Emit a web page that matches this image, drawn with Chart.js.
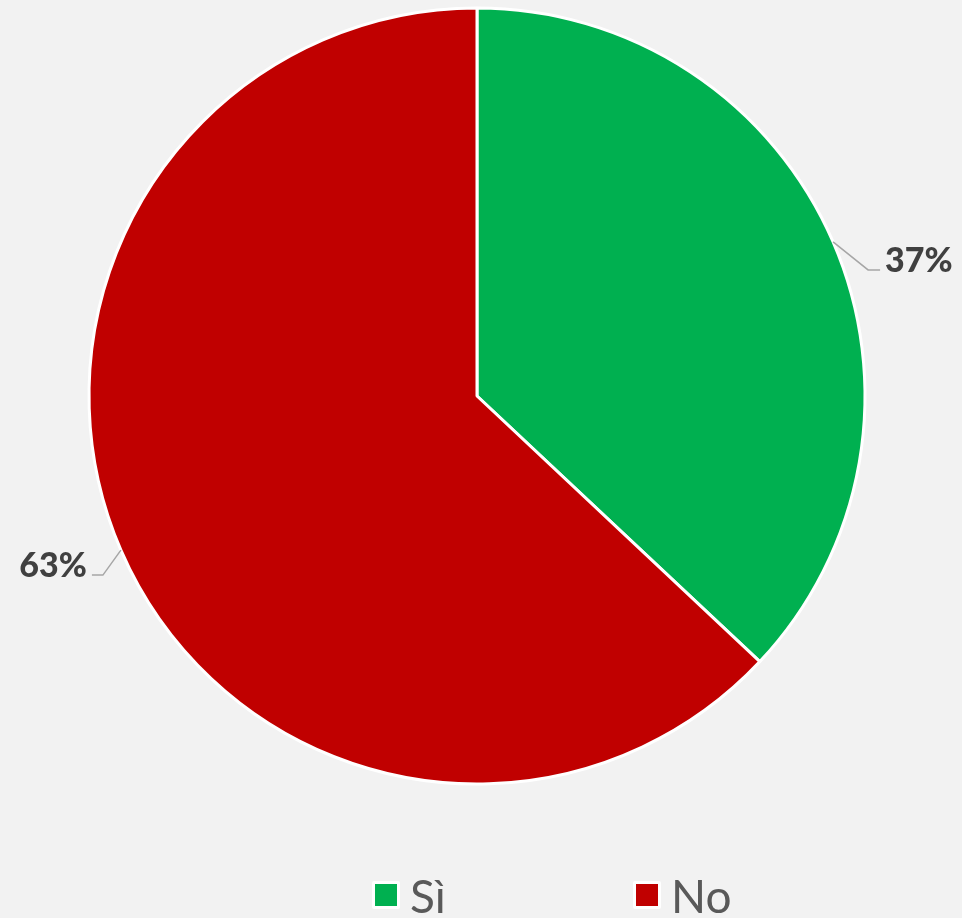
<!DOCTYPE html>
<html>
<head>
<meta charset="utf-8">
<script src="https://cdn.jsdelivr.net/npm/chart.js@4.4.1/dist/chart.umd.min.js"></script>
<style>
  html, body { margin: 0; padding: 0; background: #f2f2f2; }
  #wrap { width: 962px; height: 918px; position: relative; }
  .legend-item {
    position: absolute; top: 868px; height: 54px;
    display: flex; align-items: center;
    font: 46px Lato, sans-serif; color: #595959;
  }
  .legend-item i {
    display: inline-block; width: 22px; height: 22px;
    border: 3px solid #fff; border-radius: 2px; margin-right: 10px;
  }
</style>
</head>
<body>
<div id="wrap">
  <canvas id="pie"></canvas>
  <div id="legend"></div>
</div>
<script>
const LABELS = ['Sì', 'No'];
const VALUES = [37, 63];
const COLORS = ['#00b050', '#c00000'];

// leader line elbow offsets from the slice edge (dx, dy)
const LEADERS = [[35, 28], [-18, 25]];
// legend item left edges
const LEGEND_X = [372, 633];

const pieLabels = {
  id: 'pieLabels',
  afterDatasetsDraw(chart) {
    const ctx = chart.ctx;
    const meta = chart.getDatasetMeta(0);
    const total = VALUES.reduce((a, b) => a + b, 0);
    ctx.save();
    ctx.font = "900 34px Lato";
    ctx.fillStyle = '#404040';
    ctx.textBaseline = 'alphabetic';
    meta.data.forEach((arc, i) => {
      const { x, y, startAngle, endAngle, outerRadius } = arc.getProps(['x', 'y', 'startAngle', 'endAngle', 'outerRadius'], true);
      const mid = (startAngle + endAngle) / 2;
      const ex = x + Math.cos(mid) * outerRadius;
      const ey = y + Math.sin(mid) * outerRadius;
      const [dx, dy] = LEADERS[i];
      const bx = ex + dx, by = ey + dy;
      const right = dx > 0;
      const tx = bx + (right ? 12 : -11);
      ctx.strokeStyle = '#a6a6a6';
      ctx.lineWidth = 1.5;
      ctx.beginPath();
      ctx.moveTo(ex, ey);
      ctx.lineTo(bx, by);
      ctx.lineTo(tx, by);
      ctx.stroke();
      const txt = Math.round(VALUES[i] / total * 100) + '%';
      ctx.textAlign = right ? 'left' : 'right';
      ctx.fillText(txt, tx + (right ? 5 : -5), by + 2);
    });
    ctx.restore();
  }
};

new Chart(document.getElementById('pie'), {
  type: 'pie',
  data: {
    labels: LABELS,
    datasets: [{
      data: VALUES,
      backgroundColor: COLORS,
      borderColor: '#ffffff',
      borderWidth: 3,
    }],
  },
  options: {
    responsive: true,
    maintainAspectRatio: false,
    animation: false,
    events: [],
    radius: 388,
    layout: { padding: { left: 0, right: 8, top: 0, bottom: 126 } },
    plugins: {
      tooltip: { enabled: false },
      legend: { display: false },
    },
  },
  plugins: [pieLabels],
});

const legend = document.getElementById('legend');
LABELS.forEach((name, i) => {
  const item = document.createElement('div');
  item.className = 'legend-item';
  item.style.left = LEGEND_X[i] + 'px';
  item.innerHTML = `<i style="background:${COLORS[i]}"></i>${name}`;
  legend.appendChild(item);
});
</script>
</body>
</html>
